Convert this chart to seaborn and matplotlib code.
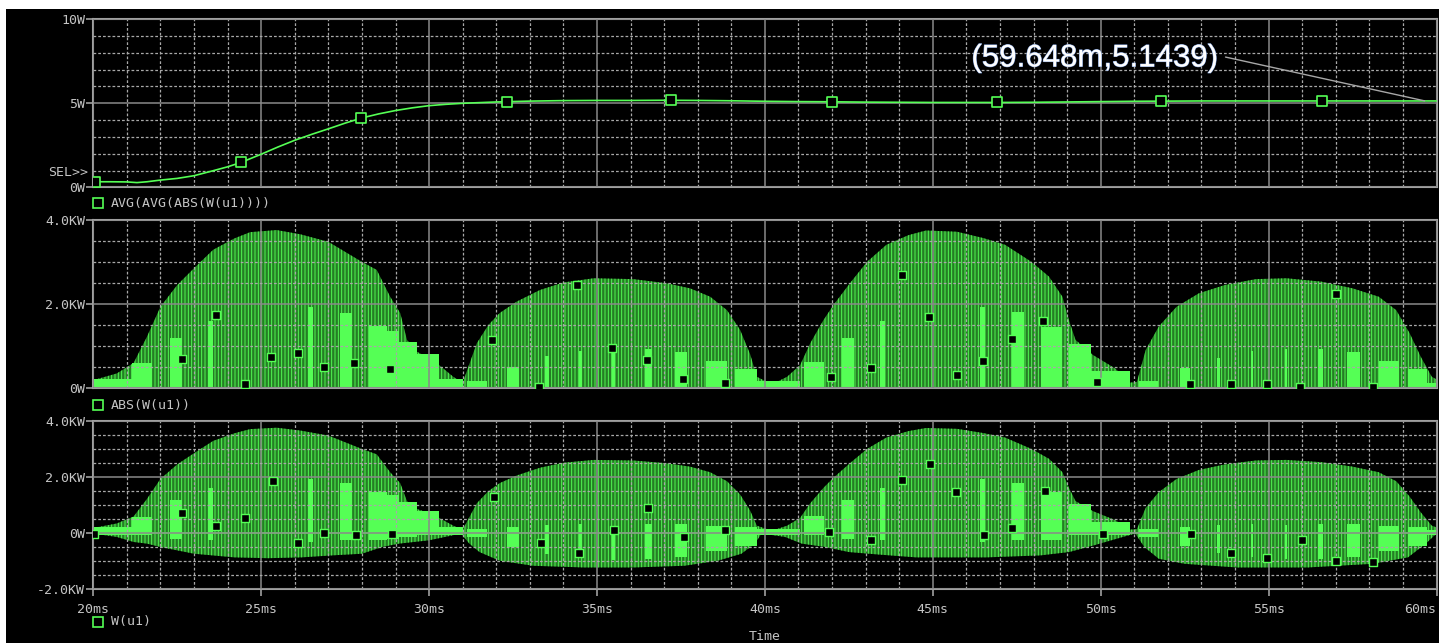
import numpy as np
import matplotlib
matplotlib.use('Agg')
import matplotlib.pyplot as plt
import matplotlib.patheffects as pe
from matplotlib.patches import Rectangle
from matplotlib.lines import Line2D
from matplotlib.ticker import MultipleLocator
import seaborn as sns

# --- datos (tiempo en ms, potencia en W / kW) ---

# AVG(AVG(ABS(W(u1)))) en W
avg_t = [20.0, 20.5, 21.0, 21.3, 21.6, 22.0, 22.5, 23.0, 23.5, 24.0, 24.4, 25.0,
         25.5, 26.0, 26.5, 27.0, 27.5, 28.0, 28.5, 29.0, 29.5, 30.0, 30.5, 31.0,
         32.0, 33.0, 34.0, 35.0, 36.0, 37.0, 38.0, 39.0, 40.0, 41.0, 42.0, 43.0,
         44.0, 45.0, 46.0, 47.0, 48.0, 49.0, 50.0, 51.0, 52.0, 53.0, 54.0, 55.0,
         56.0, 57.0, 58.0, 59.0, 60.0]
avg_w = [0.33, 0.33, 0.32, 0.28, 0.33, 0.43, 0.53, 0.69, 0.95, 1.22, 1.48, 1.97,
         2.40, 2.80, 3.15, 3.48, 3.82, 4.13, 4.37, 4.57, 4.73, 4.86, 4.94, 5.00,
         5.08, 5.13, 5.16, 5.17, 5.17, 5.18, 5.17, 5.15, 5.12, 5.10, 5.09, 5.07,
         5.06, 5.05, 5.05, 5.05, 5.06, 5.08, 5.10, 5.12, 5.13, 5.14, 5.14, 5.14,
         5.14, 5.14, 5.14, 5.14, 5.14]
avg_marks = [20.05, 24.4, 27.97, 32.33, 37.2, 42.0, 46.9, 51.8, 56.6]

# envolvente superior de W(u1) (kW) = envolvente de ABS(W(u1))
up_t = [20.0, 20.7, 21.2, 21.6, 22.0, 22.5, 23.0, 23.57, 24.2, 24.67, 25.46, 26.16,
        27.0, 28.0, 28.44, 28.84, 29.14, 29.34, 29.63, 30.12, 30.72, 31.0, 31.17,
        31.42, 31.77, 32.1, 32.6, 33.3, 34.0, 34.9, 36.08, 37.08, 37.77, 38.37,
        38.87, 39.26, 39.56, 39.76, 40.06, 40.36, 40.66, 41.05, 41.35, 41.75, 42.04,
        42.54, 43.04, 43.62, 44.28, 44.8, 45.72, 46.5, 47.15, 47.94, 48.46, 48.86,
        49.05, 49.25, 49.77, 50.43, 50.88, 51.08, 51.34, 51.73, 52.26, 52.92, 53.7,
        54.62, 55.53, 56.57, 57.5, 58.28, 58.8, 59.2, 59.53, 59.86, 60.0]
up_kw = [0.18, 0.34, 0.59, 1.22, 1.93, 2.45, 2.85, 3.29, 3.56, 3.71, 3.76, 3.66,
         3.48, 3.00, 2.81, 2.17, 1.78, 1.14, 0.86, 0.66, 0.26, 0.12, 0.50,
         1.06, 1.50, 1.78, 2.05, 2.33, 2.51, 2.61, 2.59, 2.49, 2.37, 2.17,
         1.85, 1.38, 0.80, 0.26, 0.14, 0.14, 0.26, 0.54, 1.06, 1.62, 1.97,
         2.50, 3.00, 3.41, 3.64, 3.75, 3.72, 3.57, 3.41, 3.00, 2.65, 2.17,
         1.62, 1.14, 0.78, 0.46, 0.12, 0.14, 0.90, 1.46, 1.93, 2.25, 2.45,
         2.59, 2.61, 2.53, 2.37, 2.17, 1.85, 1.30, 0.74, 0.26, 0.20]

# envolvente inferior de W(u1) (kW)
lo_t = [20.0, 20.7, 21.2, 21.6, 22.0, 23.0, 24.2, 25.2, 26.2, 27.1, 28.0, 28.6, 29.1,
        30.0, 30.95, 31.2, 31.5, 32.1, 33.1, 34.6, 36.1, 37.6, 38.6, 39.3, 39.7,
        39.9, 40.6, 41.1, 41.8, 42.5, 43.4, 44.5, 46.6, 48.2, 49.06, 49.8, 50.66,
        51.03, 51.3, 51.73, 52.5, 54.05, 56.17, 58.1, 59.15, 59.68, 60.0]
lo_kw = [-0.02, -0.14, -0.32, -0.38, -0.50, -0.74, -0.87, -0.90, -0.87, -0.80, -0.74,
         -0.50, -0.38, -0.26, -0.02, -0.38, -0.68, -0.99, -1.17, -1.23, -1.23, -1.17,
         -0.99, -0.74, -0.38, -0.02, -0.14, -0.38, -0.50, -0.68, -0.77, -0.87, -0.87,
         -0.80, -0.68, -0.44, -0.14, -0.02, -0.50, -0.92, -1.10, -1.23, -1.23, -1.10,
         -0.87, -0.38, -0.02]

# bloques de conmutacion densos (relleno verde claro) en W(u1)
blk_t0 = [20.0, 21.14, 22.28, 23.43, 26.4, 27.35, 28.2, 28.74, 29.1, 29.63, 30.3,
          31.13, 32.32, 33.46, 34.45, 35.45, 36.44, 37.33, 38.26, 39.12, 39.77,
          41.16, 42.3, 43.44, 46.4, 47.36, 48.21, 49.06, 49.7, 51.13, 52.35, 53.46,
          54.47, 55.48, 56.47, 57.34, 58.29, 59.14, 59.73]
blk_t1 = [21.14, 21.74, 22.63, 23.57, 26.55, 27.7, 28.74, 29.1, 29.63, 30.3, 31.0,
          31.72, 32.67, 33.56, 34.55, 35.55, 36.64, 37.68, 38.87, 39.77, 41.06,
          41.75, 42.65, 43.59, 46.56, 47.73, 48.84, 49.7, 50.86, 51.71, 52.67, 53.54,
          54.54, 55.54, 56.63, 57.71, 58.88, 59.73, 60.0]
blk_top = [0.20, 0.58, 1.18, 1.60, 1.93, 1.78, 1.47, 1.35, 1.10, 0.80, 0.20,
           0.16, 0.22, 0.28, 0.31, 0.24, 0.31, 0.31, 0.24, 0.22, 0.16,
           0.62, 1.18, 1.60, 1.93, 1.80, 1.45, 1.05, 0.40, 0.16, 0.22, 0.28,
           0.31, 0.28, 0.31, 0.31, 0.24, 0.22, 0.12]
blk_bot = [-0.08, -0.08, -0.20, -0.26, -0.32, -0.26, -0.24, -0.20, -0.14, -0.08, -0.06,
           -0.14, -0.50, -0.75, -0.87, -0.96, -0.93, -0.84, -0.63, -0.45, -0.08,
           -0.08, -0.20, -0.26, -0.32, -0.26, -0.24, -0.08, -0.08, -0.14, -0.48, -0.72,
           -0.87, -0.93, -0.93, -0.84, -0.63, -0.45, -0.06]

# marcadores de traza
abs_mark_t = [22.63, 23.64, 24.52, 25.28, 26.09, 26.88, 27.77, 28.84, 31.87, 33.26,
              34.4, 35.45, 36.49, 37.55, 38.8, 41.98, 43.17, 44.09, 44.9, 45.71,
              46.5, 47.35, 48.29, 49.9, 52.67, 53.87, 54.94, 55.93, 57.0, 58.12]
abs_mark_v = [0.69, 1.73, 0.10, 0.74, 0.82, 0.49, 0.58, 0.44, 1.14, 0.01,
              2.45, 0.95, 0.66, 0.20, 0.12, 0.25, 0.46, 2.69, 1.68, 0.30,
              0.64, 1.15, 1.60, 0.13, 0.10, 0.10, 0.10, 0.01, 2.24, 0.02]
w_mark_t = [20.03, 22.63, 23.64, 24.52, 25.34, 26.09, 26.88, 27.83, 28.91, 31.94,
            33.32, 34.45, 35.52, 36.51, 37.58, 38.8, 41.9, 43.16, 44.09, 44.91,
            45.7, 46.51, 47.35, 48.35, 50.06, 52.68, 53.87, 54.94, 56.0, 57.0, 58.12]
w_mark_v = [-0.02, 0.72, 0.24, 0.52, 1.85, -0.35, 0.01, -0.06, -0.02, 1.30,
            -0.35, -0.70, 0.10, 0.91, -0.14, 0.12, 0.05, -0.26, 1.89, 2.48,
            1.46, -0.06, 0.17, 1.50, -0.02, -0.02, -0.70, -0.89, -0.26, -1.00, -1.05]

x_ticks = [20, 25, 30, 35, 40, 45, 50, 55, 60]
x_labels = ['20ms', '25ms', '30ms', '35ms', '40ms', '45ms', '50ms', '55ms', '60ms']

# --- estilo ---
GREEN = '#55ff55'
DARK = '#257d25'
GRID = '#8a8a8a'
TXT = '#c4c4c4'

sns.set_style('dark')
plt.rcParams['font.family'] = ['DejaVu Sans Mono']
plt.rcParams['hatch.linewidth'] = 0.65
plt.rcParams['hatch.color'] = GREEN

W, H = 1439, 643
fig = plt.figure(figsize=(W / 100, H / 100), dpi=100)
fig.patch.set_facecolor('white')
fig.patches.append(Rectangle((6 / W, 0), 1, 1 - 9 / H, transform=fig.transFigure,
                             facecolor='black', edgecolor='none', zorder=-10))

def box(top, bottom):
    return [93.3 / W, 1 - bottom / H, (1436.5 - 93.3) / W, (bottom - top) / H]

ax0 = fig.add_axes(box(19.3, 187.3))
ax1 = fig.add_axes(box(220, 387.7))
ax2 = fig.add_axes(box(421, 589))

def style(ax, ymin, ymax, yticks, ylabels, yminor, bottom=False):
    ax.set_facecolor('black')
    ax.set_xlim(20, 60)
    ax.set_ylim(ymin, ymax)
    ax.set_xticks(x_ticks)
    ax.xaxis.set_minor_locator(MultipleLocator(1))
    ax.set_yticks(yticks, ylabels)
    ax.yaxis.set_minor_locator(MultipleLocator(yminor))
    ax.set_axisbelow(False)
    ax.grid(which='major', color=GRID, lw=1.1, ls='-')
    ax.grid(which='minor', color='#a8a8a8', lw=0.9, ls=(0, (2.2, 1.6)))
    for s in ax.spines.values():
        s.set_color('#a0a0a0')
        s.set_linewidth(1.5)
        s.set_visible(True)
    ax.tick_params(axis='y', which='major', length=5, width=1.2, color='#a0a0a0',
                   labelcolor=TXT, labelsize=9.5, pad=1, left=True)
    ax.tick_params(which='minor', length=0)
    if bottom:
        ax.set_xticklabels(x_labels)
        ax.get_xticklabels()[-1].set_horizontalalignment('right')
        ax.tick_params(axis='x', which='major', length=5, width=1.2, color='#a0a0a0',
                       labelcolor=TXT, labelsize=9.5, pad=5, bottom=True)
    else:
        ax.tick_params(axis='x', which='major', length=0, labelbottom=False)
    ax.set_xlabel('')
    ax.set_ylabel('')

# panel superior: promedio
style(ax0, 0, 10, [0, 5, 10], ['0W', '5W', '10W'], 1)
sns.lineplot(x=avg_t, y=avg_w, ax=ax0, color=GREEN, lw=1.2, zorder=3)
sns.scatterplot(x=avg_marks, y=np.interp(avg_marks, avg_t, avg_w), ax=ax0,
                marker='s', s=42, color='black', edgecolor=GREEN, linewidth=1.2, zorder=4)
ann = ax0.annotate('(59.648m,5.1439)', xy=(59.648, 5.1439), xytext=(46.15, 7.67),
                   textcoords='data', fontsize=22.5, family='Liberation Sans',
                   color='white', ha='left', va='center', zorder=6,
                   arrowprops=dict(arrowstyle='-', color='#a8a8a8', lw=1,
                                   relpos=(1.0, 0.6), shrinkA=3, shrinkB=0))
ann.set_path_effects([pe.withStroke(linewidth=0.7, foreground='#7f9fd8')])

# panel medio: ABS(W(u1))
style(ax1, 0, 4, [0, 2, 4], ['0W', '2.0KW', '4.0KW'], 0.5)
ax1.fill_between(up_t, 0, up_kw, facecolor=DARK, edgecolor=GREEN, hatch='|||||',
                 linewidth=0, zorder=1)
blk_abs = np.maximum(blk_top, np.abs(blk_bot))
ax1.bar(blk_t0, blk_abs, width=np.subtract(blk_t1, blk_t0), bottom=0, align='edge',
        color=GREEN, linewidth=0, zorder=1.5)
ax1.axhline(0, color=GREEN, lw=2, zorder=2)
sns.scatterplot(x=abs_mark_t, y=abs_mark_v, ax=ax1, marker='s', s=34, color='black',
                edgecolor=GREEN, linewidth=1.0, zorder=4)

# panel inferior: W(u1)
style(ax2, -2, 4, [-2, 0, 2, 4], ['-2.0KW', '0W', '2.0KW', '4.0KW'], 0.5, bottom=True)
ax2.fill(list(up_t) + lo_t[::-1], list(up_kw) + lo_kw[::-1], facecolor=DARK,
         edgecolor=GREEN, hatch='|||||', linewidth=0, zorder=1)
ax2.bar(blk_t0, np.subtract(blk_top, blk_bot), width=np.subtract(blk_t1, blk_t0),
        bottom=blk_bot, align='edge', color=GREEN, linewidth=0, zorder=1.5)
ax2.axhline(0, color=GREEN, lw=1.2, zorder=2)
sns.scatterplot(x=w_mark_t, y=w_mark_v, ax=ax2, marker='s', s=34, color='black',
                edgecolor=GREEN, linewidth=1.0, zorder=4)

# leyendas de traza y textos sueltos
def trace_label(y, text):
    fig.add_artist(Line2D([98 / W], [1 - y / H], marker='s', markersize=6.5,
                          mfc='none', mec=GREEN, mew=1.2, transform=fig.transFigure))
    fig.text(111 / W, 1 - y / H, text, color=TXT, fontsize=9.5, ha='left', va='center')

trace_label(203, 'AVG(AVG(ABS(W(u1))))')
trace_label(405, 'ABS(W(u1))')
trace_label(622, 'W(u1)')
fig.text(88 / W, 1 - 172.7 / H, 'SEL>>', color=TXT, fontsize=9.5, ha='right', va='center')
fig.text(765 / W, 1 - 637 / H, 'Time', color=TXT, fontsize=9.5, ha='center', va='center')

fig.savefig('out.png', dpi=100)
